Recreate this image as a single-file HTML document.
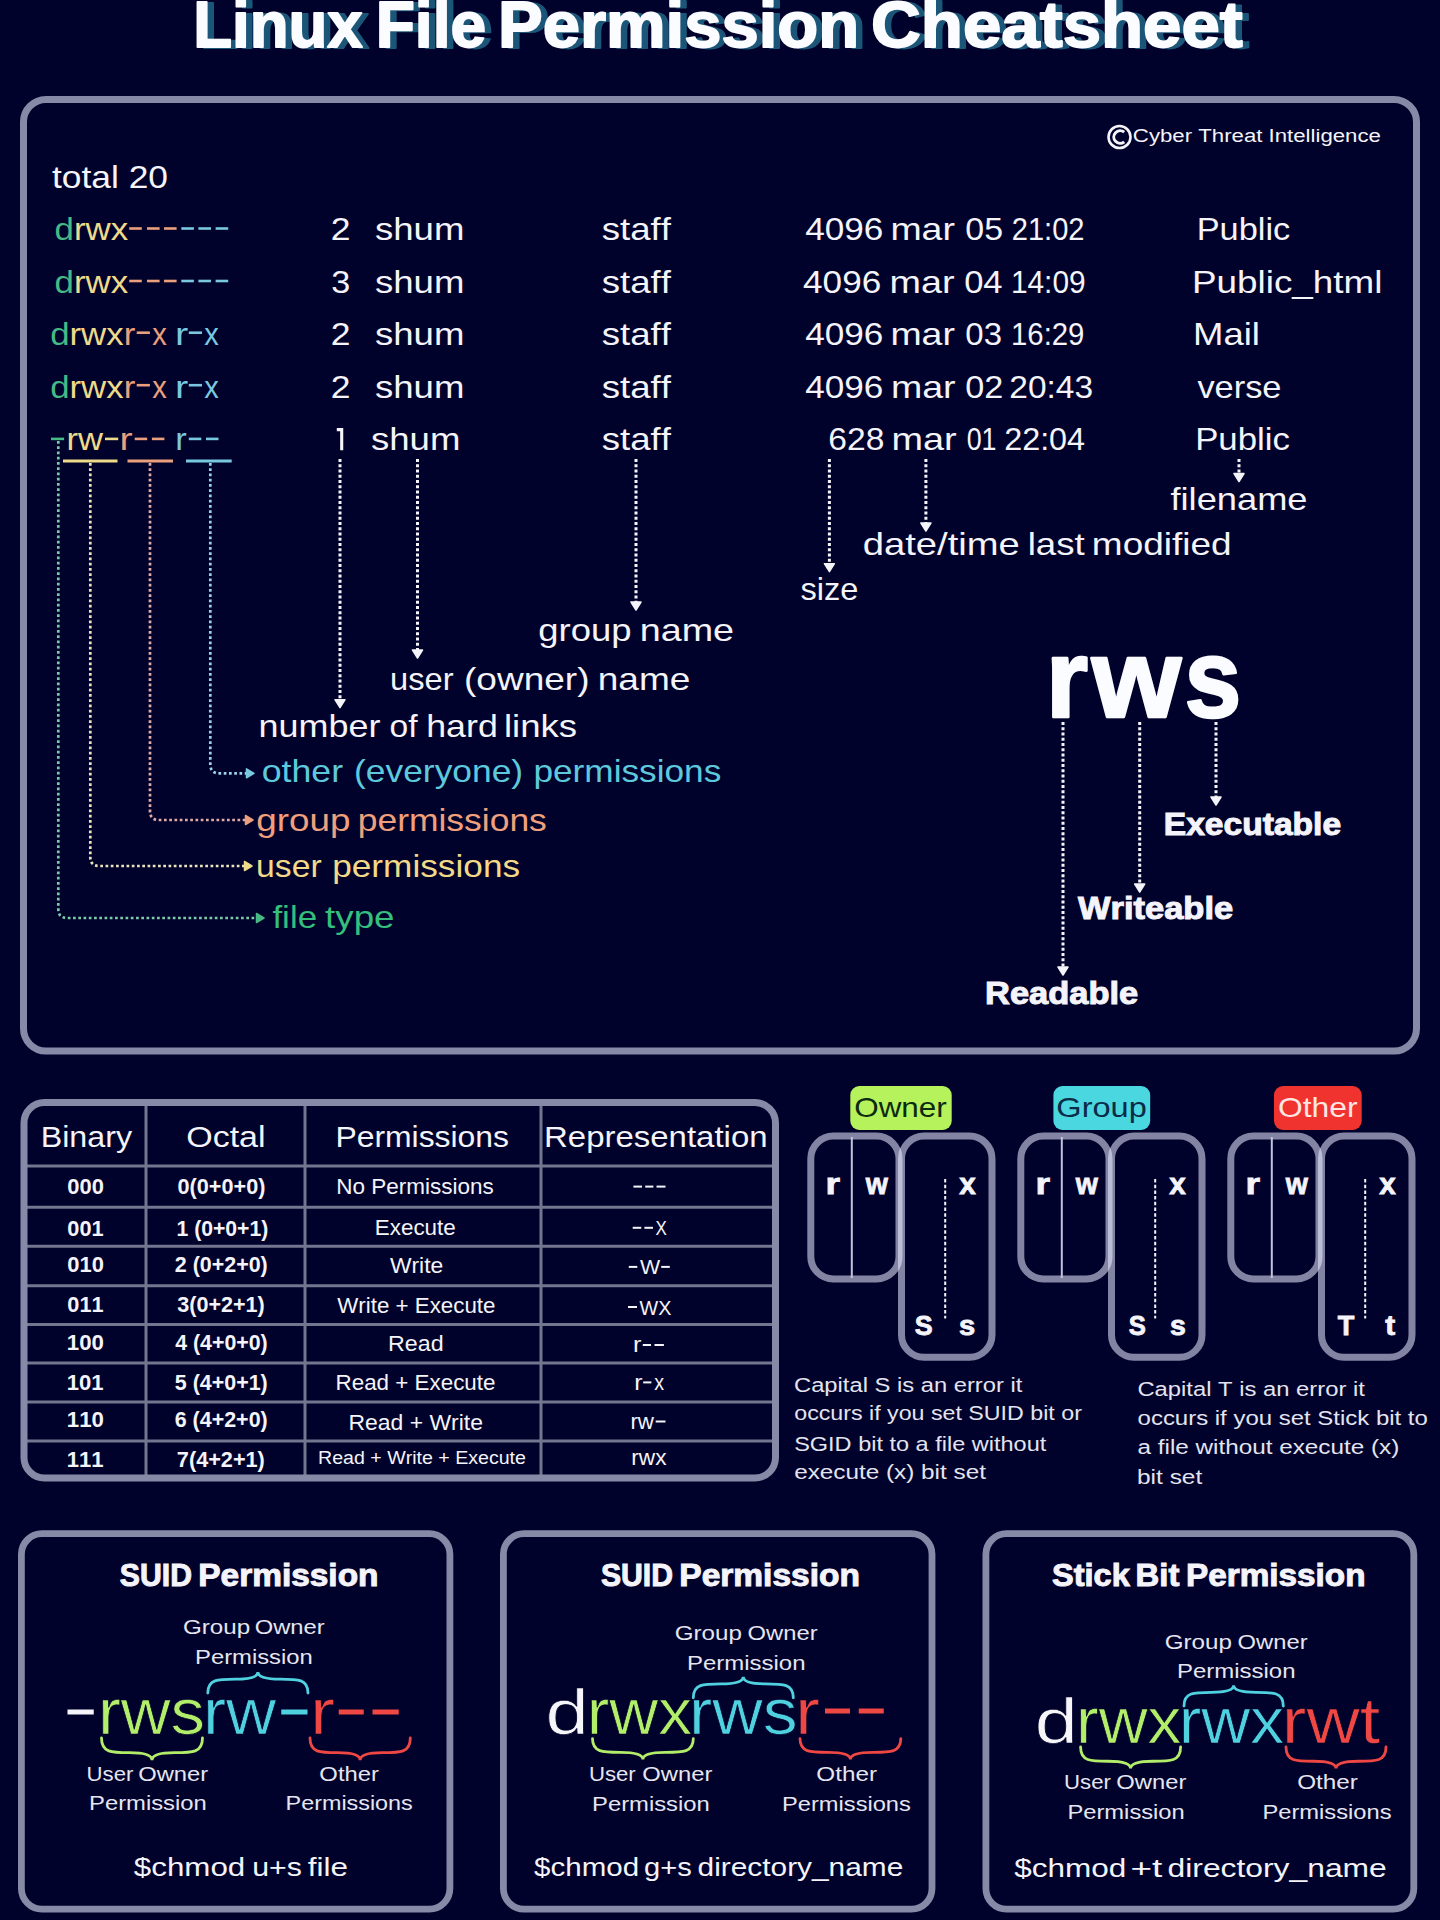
<!DOCTYPE html>
<html><head><meta charset="utf-8"><title>Linux File Permission Cheatsheet</title>
<style>
html,body{margin:0;padding:0;background:#01022b;}
body{width:1440px;height:1920px;overflow:hidden;}
svg{display:block;}
svg text{font-family:"Liberation Sans",sans-serif;font-kerning:none;fill:#f4f4fa;}
</style></head><body>
<svg width="1440" height="1920" viewBox="0 0 1440 1920">
<rect width="1440" height="1920" fill="#01022b"/>
<text transform="translate(199.65 48.00) scale(0.9781 1.0000)" font-size="65.00" font-weight="bold" stroke="#1b5577" stroke-width="1.8" stroke-linejoin="round"><tspan fill="#1b5577">Linux</tspan></text>
<text transform="translate(382.21 48.00) scale(0.9867 1.0000)" font-size="65.00" font-weight="bold" stroke="#1b5577" stroke-width="1.8" stroke-linejoin="round"><tspan fill="#1b5577">File</tspan></text>
<text transform="translate(504.52 48.00) scale(1.0306 1.0000)" font-size="65.00" font-weight="bold" stroke="#1b5577" stroke-width="1.8" stroke-linejoin="round"><tspan fill="#1b5577">Permission</tspan></text>
<text transform="translate(877.57 48.00) scale(1.0610 1.0000)" font-size="65.00" font-weight="bold" stroke="#1b5577" stroke-width="1.8" stroke-linejoin="round"><tspan fill="#1b5577">Cheatsheet</tspan></text>
<text transform="translate(193.15 47.20) scale(0.9781 1.0000)" font-size="65.00" font-weight="bold" stroke="#fbfcff" stroke-width="1.8" stroke-linejoin="round"><tspan fill="#fbfcff">Linux</tspan></text>
<text transform="translate(375.71 47.20) scale(0.9867 1.0000)" font-size="65.00" font-weight="bold" stroke="#fbfcff" stroke-width="1.8" stroke-linejoin="round"><tspan fill="#fbfcff">File</tspan></text>
<text transform="translate(498.02 47.20) scale(1.0306 1.0000)" font-size="65.00" font-weight="bold" stroke="#fbfcff" stroke-width="1.8" stroke-linejoin="round"><tspan fill="#fbfcff">Permission</tspan></text>
<text transform="translate(871.07 47.20) scale(1.0610 1.0000)" font-size="65.00" font-weight="bold" stroke="#fbfcff" stroke-width="1.8" stroke-linejoin="round"><tspan fill="#fbfcff">Cheatsheet</tspan></text>
<rect x="23.50" y="99.50" width="1393.00" height="951.50" rx="22.50" fill="none" stroke="#868aa6" stroke-width="7.00"/>
<circle cx="1119.5" cy="137" r="11" fill="none" stroke="#f4f4fa" stroke-width="2.6"/>
<path d="M1124.2 132.2 A6.3 6.3 0 1 0 1124.2 141.8" fill="none" stroke="#f4f4fa" stroke-width="3"/>
<text transform="translate(1132.87 142.00) scale(1.1688 1.0000)" font-size="19.00"><tspan fill="#f4f4fa">Cyber Threat Intelligence</tspan></text>
<text transform="translate(51.96 187.50) scale(1.1419 1.0000)" font-size="31.00"><tspan fill="#f4f4fa">total 20</tspan></text>
<text transform="translate(54.54 240.00) scale(1.0899 1.0000)" font-size="32.00"><tspan fill="#46b985">d</tspan><tspan fill="#eedb8a">rwx</tspan></text>
<line x1="129.20" y1="228.50" x2="141.80" y2="228.50" stroke="#eb9f7d" stroke-width="2.60"/>
<line x1="147.00" y1="228.50" x2="159.60" y2="228.50" stroke="#eb9f7d" stroke-width="2.60"/>
<line x1="164.00" y1="228.50" x2="176.60" y2="228.50" stroke="#eb9f7d" stroke-width="2.60"/>
<line x1="181.30" y1="228.50" x2="193.90" y2="228.50" stroke="#78c9e0" stroke-width="2.60"/>
<line x1="198.40" y1="228.50" x2="211.00" y2="228.50" stroke="#78c9e0" stroke-width="2.60"/>
<line x1="215.60" y1="228.50" x2="228.20" y2="228.50" stroke="#78c9e0" stroke-width="2.60"/>
<text transform="translate(54.54 292.50) scale(1.0899 1.0000)" font-size="32.00"><tspan fill="#46b985">d</tspan><tspan fill="#eedb8a">rwx</tspan></text>
<line x1="129.20" y1="281.00" x2="141.80" y2="281.00" stroke="#eb9f7d" stroke-width="2.60"/>
<line x1="147.00" y1="281.00" x2="159.60" y2="281.00" stroke="#eb9f7d" stroke-width="2.60"/>
<line x1="164.00" y1="281.00" x2="176.60" y2="281.00" stroke="#eb9f7d" stroke-width="2.60"/>
<line x1="181.30" y1="281.00" x2="193.90" y2="281.00" stroke="#78c9e0" stroke-width="2.60"/>
<line x1="198.40" y1="281.00" x2="211.00" y2="281.00" stroke="#78c9e0" stroke-width="2.60"/>
<line x1="215.60" y1="281.00" x2="228.20" y2="281.00" stroke="#78c9e0" stroke-width="2.60"/>
<text transform="translate(50.14 345.00) scale(1.0885 1.0000)" font-size="32.00"><tspan fill="#46b985">d</tspan><tspan fill="#eedb8a">rwx</tspan><tspan fill="#eb9f7d">r</tspan></text>
<line x1="136.70" y1="332.70" x2="149.90" y2="332.70" stroke="#eb9f7d" stroke-width="2.60"/>
<text transform="translate(152.17 345.00) scale(0.9087 1.0000)" font-size="32.00"><tspan fill="#eb9f7d">x</tspan></text>
<text transform="translate(174.97 345.00) scale(1.2375 1.0000)" font-size="32.00"><tspan fill="#78c9e0">r</tspan></text>
<line x1="188.80" y1="332.70" x2="202.00" y2="332.70" stroke="#78c9e0" stroke-width="2.60"/>
<text transform="translate(204.27 345.00) scale(0.9087 1.0000)" font-size="32.00"><tspan fill="#78c9e0">x</tspan></text>
<text transform="translate(50.14 397.50) scale(1.0885 1.0000)" font-size="32.00"><tspan fill="#46b985">d</tspan><tspan fill="#eedb8a">rwx</tspan><tspan fill="#eb9f7d">r</tspan></text>
<line x1="136.70" y1="385.20" x2="149.90" y2="385.20" stroke="#eb9f7d" stroke-width="2.60"/>
<text transform="translate(152.17 397.50) scale(0.9087 1.0000)" font-size="32.00"><tspan fill="#eb9f7d">x</tspan></text>
<text transform="translate(174.97 397.50) scale(1.2375 1.0000)" font-size="32.00"><tspan fill="#78c9e0">r</tspan></text>
<line x1="188.80" y1="385.20" x2="202.00" y2="385.20" stroke="#78c9e0" stroke-width="2.60"/>
<text transform="translate(204.27 397.50) scale(0.9087 1.0000)" font-size="32.00"><tspan fill="#78c9e0">x</tspan></text>
<line x1="51.00" y1="438.90" x2="64.10" y2="438.90" stroke="#46b985" stroke-width="2.60"/>
<text transform="translate(66.40 450.00) scale(1.0814 1.0000)" font-size="32.00"><tspan fill="#eedb8a">rw</tspan></text>
<line x1="105.00" y1="438.90" x2="118.20" y2="438.90" stroke="#eedb8a" stroke-width="2.60"/>
<text transform="translate(119.60 450.00) scale(1.2250 1.0000)" font-size="32.00"><tspan fill="#eb9f7d">r</tspan></text>
<line x1="134.70" y1="438.90" x2="147.20" y2="438.90" stroke="#eb9f7d" stroke-width="2.60"/>
<line x1="151.90" y1="438.90" x2="164.40" y2="438.90" stroke="#eb9f7d" stroke-width="2.60"/>
<text transform="translate(175.32 450.00) scale(1.0750 1.0000)" font-size="32.00"><tspan fill="#78c9e0">r</tspan></text>
<line x1="188.80" y1="438.90" x2="201.30" y2="438.90" stroke="#78c9e0" stroke-width="2.60"/>
<line x1="206.00" y1="438.90" x2="218.50" y2="438.90" stroke="#78c9e0" stroke-width="2.60"/>
<text transform="translate(330.71 240.00) scale(1.1113 1.0000)" font-size="32.00"><tspan fill="#f4f4fa">2</tspan></text>
<text transform="translate(374.98 240.00) scale(1.1429 1.0000)" font-size="32.00"><tspan fill="#f4f4fa">shum</tspan></text>
<text transform="translate(601.68 240.00) scale(1.1455 1.0000)" font-size="32.00"><tspan fill="#f4f4fa">staff</tspan></text>
<text transform="translate(331.20 292.50) scale(1.0678 1.0000)" font-size="32.00"><tspan fill="#f4f4fa">3</tspan></text>
<text transform="translate(374.98 292.50) scale(1.1429 1.0000)" font-size="32.00"><tspan fill="#f4f4fa">shum</tspan></text>
<text transform="translate(601.68 292.50) scale(1.1455 1.0000)" font-size="32.00"><tspan fill="#f4f4fa">staff</tspan></text>
<text transform="translate(330.71 345.00) scale(1.1113 1.0000)" font-size="32.00"><tspan fill="#f4f4fa">2</tspan></text>
<text transform="translate(374.98 345.00) scale(1.1429 1.0000)" font-size="32.00"><tspan fill="#f4f4fa">shum</tspan></text>
<text transform="translate(601.68 345.00) scale(1.1455 1.0000)" font-size="32.00"><tspan fill="#f4f4fa">staff</tspan></text>
<text transform="translate(330.71 397.50) scale(1.1113 1.0000)" font-size="32.00"><tspan fill="#f4f4fa">2</tspan></text>
<text transform="translate(374.98 397.50) scale(1.1429 1.0000)" font-size="32.00"><tspan fill="#f4f4fa">shum</tspan></text>
<text transform="translate(601.68 397.50) scale(1.1455 1.0000)" font-size="32.00"><tspan fill="#f4f4fa">staff</tspan></text>
<path d="M336.8 429.6 L341.7 429.6 L341.7 450.3" fill="none" stroke="#f4f4fa" stroke-width="3.1" stroke-linejoin="miter"/>
<text transform="translate(370.98 450.00) scale(1.1429 1.0000)" font-size="32.00"><tspan fill="#f4f4fa">shum</tspan></text>
<text transform="translate(601.68 450.00) scale(1.1455 1.0000)" font-size="32.00"><tspan fill="#f4f4fa">staff</tspan></text>
<text transform="translate(805.19 240.00) scale(1.0993 1.0000)" font-size="32.00"><tspan fill="#f4f4fa">4096</tspan></text>
<text transform="translate(890.41 240.00) scale(1.1706 1.0000)" font-size="32.00"><tspan fill="#f4f4fa">mar</tspan></text>
<text transform="translate(965.27 240.00) scale(1.0606 1.0000)" font-size="32.00"><tspan fill="#f4f4fa">05</tspan></text>
<text transform="translate(1011.74 240.00) scale(0.9095 1.0000)" font-size="32.00"><tspan fill="#f4f4fa">21:02</tspan></text>
<text transform="translate(1196.68 240.00) scale(1.0742 1.0000)" font-size="32.00"><tspan fill="#f4f4fa">Public</tspan></text>
<text transform="translate(803.09 292.50) scale(1.0978 1.0000)" font-size="32.00"><tspan fill="#f4f4fa">4096</tspan></text>
<text transform="translate(889.49 292.50) scale(1.1801 1.0000)" font-size="32.00"><tspan fill="#f4f4fa">mar</tspan></text>
<text transform="translate(964.15 292.50) scale(1.0806 1.0000)" font-size="32.00"><tspan fill="#f4f4fa">04</tspan></text>
<text transform="translate(1010.93 292.50) scale(0.9327 1.0000)" font-size="32.00"><tspan fill="#f4f4fa">14:09</tspan></text>
<text transform="translate(1191.98 292.50) scale(1.1516 1.0000)" font-size="32.00"><tspan fill="#f4f4fa">Public_html</tspan></text>
<text transform="translate(805.19 345.00) scale(1.0993 1.0000)" font-size="32.00"><tspan fill="#f4f4fa">4096</tspan></text>
<text transform="translate(890.41 345.00) scale(1.1706 1.0000)" font-size="32.00"><tspan fill="#f4f4fa">mar</tspan></text>
<text transform="translate(965.31 345.00) scale(1.0292 1.0000)" font-size="32.00"><tspan fill="#f4f4fa">03</tspan></text>
<text transform="translate(1010.96 345.00) scale(0.9182 1.0000)" font-size="32.00"><tspan fill="#f4f4fa">16:29</tspan></text>
<text transform="translate(1193.01 345.00) scale(1.1409 1.0000)" font-size="32.00"><tspan fill="#f4f4fa">Mail</tspan></text>
<text transform="translate(805.19 397.50) scale(1.0993 1.0000)" font-size="32.00"><tspan fill="#f4f4fa">4096</tspan></text>
<text transform="translate(891.01 397.50) scale(1.1725 1.0000)" font-size="32.00"><tspan fill="#f4f4fa">mar</tspan></text>
<text transform="translate(965.26 397.50) scale(1.0692 1.0000)" font-size="32.00"><tspan fill="#f4f4fa">02</tspan></text>
<text transform="translate(1009.32 397.50) scale(1.0459 1.0000)" font-size="32.00"><tspan fill="#f4f4fa">20:43</tspan></text>
<text transform="translate(1197.38 397.50) scale(1.0754 1.0000)" font-size="32.00"><tspan fill="#f4f4fa">verse</tspan></text>
<text transform="translate(828.29 450.00) scale(1.0501 1.0000)" font-size="32.00"><tspan fill="#f4f4fa">628</tspan></text>
<text transform="translate(891.49 450.00) scale(1.1820 1.0000)" font-size="32.00"><tspan fill="#f4f4fa">mar</tspan></text>
<text transform="translate(966.65 450.00) scale(0.8389 1.0000)" font-size="32.00"><tspan fill="#f4f4fa">01</tspan></text>
<text transform="translate(1004.17 450.00) scale(1.0112 1.0000)" font-size="32.00"><tspan fill="#f4f4fa">22:04</tspan></text>
<text transform="translate(1195.15 450.00) scale(1.0874 1.0000)" font-size="32.00"><tspan fill="#f4f4fa">Public</tspan></text>
<line x1="63" y1="461" x2="117.5" y2="461" stroke="#eedb8a" stroke-width="3"/>
<line x1="127.5" y1="461" x2="173" y2="461" stroke="#eb9f7d" stroke-width="3"/>
<line x1="186" y1="461" x2="231.7" y2="461" stroke="#78c9e0" stroke-width="3"/>
<path d="M58.30 441.00 L58.30 909.00 Q58.30 918.00 67.30 918.00 L256.00 918.00" fill="none" stroke="#7ccaa8" stroke-width="2.7" stroke-dasharray="2.7 2.55"/>
<path d="M256.50 913.50 L256.50 922.50 L264.00 918.00 Z" fill="#46b985" stroke="#46b985" stroke-width="1.5" stroke-linejoin="round"/>
<path d="M90.30 463.00 L90.30 857.00 Q90.30 866.00 99.30 866.00 L244.00 866.00" fill="none" stroke="#ece4bc" stroke-width="2.7" stroke-dasharray="2.7 2.55"/>
<path d="M244.50 861.50 L244.50 870.50 L252.00 866.00 Z" fill="#eedb8a" stroke="#eedb8a" stroke-width="1.5" stroke-linejoin="round"/>
<path d="M150.00 463.00 L150.00 811.00 Q150.00 820.00 159.00 820.00 L245.00 820.00" fill="none" stroke="#e2aca6" stroke-width="2.7" stroke-dasharray="2.7 2.55"/>
<path d="M245.50 815.50 L245.50 824.50 L253.00 820.00 Z" fill="#eb9f7d" stroke="#eb9f7d" stroke-width="1.5" stroke-linejoin="round"/>
<path d="M210.30 463.00 L210.30 764.30 Q210.30 773.30 219.30 773.30 L246.00 773.30" fill="none" stroke="#9ad4e8" stroke-width="2.7" stroke-dasharray="2.7 2.55"/>
<path d="M246.50 768.80 L246.50 777.80 L254.00 773.30 Z" fill="#78c9e0" stroke="#78c9e0" stroke-width="1.5" stroke-linejoin="round"/>
<line x1="340.00" y1="459.00" x2="340.00" y2="699.00" stroke="#f4f4fa" stroke-width="3" stroke-dasharray="3 2.25"/>
<path d="M335.00 699.70 L345.00 699.70 L340.00 707.70 Z" fill="#f4f4fa" stroke="#f4f4fa" stroke-width="1.5" stroke-linejoin="round"/>
<line x1="417.50" y1="459.00" x2="417.50" y2="650.00" stroke="#f4f4fa" stroke-width="3" stroke-dasharray="3 2.25"/>
<path d="M412.50 650.00 L422.50 650.00 L417.50 658.00 Z" fill="#f4f4fa" stroke="#f4f4fa" stroke-width="1.5" stroke-linejoin="round"/>
<line x1="636.00" y1="459.00" x2="636.00" y2="602.00" stroke="#f4f4fa" stroke-width="3" stroke-dasharray="3 2.25"/>
<path d="M631.00 602.00 L641.00 602.00 L636.00 610.00 Z" fill="#f4f4fa" stroke="#f4f4fa" stroke-width="1.5" stroke-linejoin="round"/>
<line x1="829.40" y1="459.00" x2="829.40" y2="564.00" stroke="#f4f4fa" stroke-width="3" stroke-dasharray="3 2.25"/>
<path d="M824.40 563.70 L834.40 563.70 L829.40 571.70 Z" fill="#f4f4fa" stroke="#f4f4fa" stroke-width="1.5" stroke-linejoin="round"/>
<line x1="925.90" y1="459.00" x2="925.90" y2="523.00" stroke="#f4f4fa" stroke-width="3" stroke-dasharray="3 2.25"/>
<path d="M920.90 523.00 L930.90 523.00 L925.90 531.00 Z" fill="#f4f4fa" stroke="#f4f4fa" stroke-width="1.5" stroke-linejoin="round"/>
<line x1="1239.00" y1="459.00" x2="1239.00" y2="474.00" stroke="#f4f4fa" stroke-width="3" stroke-dasharray="3 2.25"/>
<path d="M1234.00 473.50 L1244.00 473.50 L1239.00 481.50 Z" fill="#f4f4fa" stroke="#f4f4fa" stroke-width="1.5" stroke-linejoin="round"/>
<text transform="translate(1170.49 510.00) scale(1.1337 1.0000)" font-size="32.00"><tspan fill="#f4f4fa">filename</tspan></text>
<text transform="translate(862.80 555.00) scale(1.1928 1.0000)" font-size="32.00"><tspan fill="#f4f4fa">date/time</tspan></text>
<text transform="translate(1027.63 555.00) scale(1.1454 1.0000)" font-size="32.00"><tspan fill="#f4f4fa">last</tspan></text>
<text transform="translate(1091.84 555.00) scale(1.1562 1.0000)" font-size="32.00"><tspan fill="#f4f4fa">modified</tspan></text>
<text transform="translate(800.49 599.70) scale(1.0184 1.0000)" font-size="32.00"><tspan fill="#f4f4fa">size</tspan></text>
<text transform="translate(538.37 641.00) scale(1.1383 1.0000)" font-size="32.00"><tspan fill="#f4f4fa">group</tspan></text>
<text transform="translate(639.69 641.00) scale(1.1791 1.0000)" font-size="32.00"><tspan fill="#f4f4fa">name</tspan></text>
<text transform="translate(390.08 689.70) scale(1.0194 1.0000)" font-size="32.00"><tspan fill="#f4f4fa">user</tspan></text>
<text transform="translate(464.00 689.70) scale(1.1569 1.0000)" font-size="32.00"><tspan fill="#f4f4fa">(owner)</tspan></text>
<text transform="translate(597.74 689.70) scale(1.1582 1.0000)" font-size="32.00"><tspan fill="#f4f4fa">name</tspan></text>
<text transform="translate(258.61 736.50) scale(1.1243 1.0000)" font-size="32.00"><tspan fill="#f4f4fa">number</tspan></text>
<text transform="translate(389.59 736.50) scale(1.0516 1.0000)" font-size="32.00"><tspan fill="#f4f4fa">of</tspan></text>
<text transform="translate(426.22 736.50) scale(1.1177 1.0000)" font-size="32.00"><tspan fill="#f4f4fa">hard</tspan></text>
<text transform="translate(503.94 736.50) scale(1.1416 1.0000)" font-size="32.00"><tspan fill="#f4f4fa">links</tspan></text>
<text transform="translate(261.70 782.30) scale(1.1159 1.0000)" font-size="32.00"><tspan fill="#5ec9dc">other</tspan></text>
<text transform="translate(354.00 782.30) scale(1.1062 1.0000)" font-size="32.00"><tspan fill="#5ec9dc">(everyone)</tspan></text>
<text transform="translate(533.43 782.30) scale(1.1009 1.0000)" font-size="32.00"><tspan fill="#5ec9dc">permissions</tspan></text>
<text transform="translate(256.25 831.10) scale(1.1509 1.0000)" font-size="32.00"><tspan fill="#f0a07c">group</tspan></text>
<text transform="translate(357.71 831.10) scale(1.1081 1.0000)" font-size="32.00"><tspan fill="#f0a07c">permissions</tspan></text>
<text transform="translate(256.01 876.70) scale(1.0547 1.0000)" font-size="32.00"><tspan fill="#f2da88">user</tspan></text>
<text transform="translate(332.13 876.70) scale(1.1015 1.0000)" font-size="32.00"><tspan fill="#f2da88">permissions</tspan></text>
<text transform="translate(272.40 927.80) scale(1.0940 1.0000)" font-size="32.00"><tspan fill="#35bf7c">file</tspan></text>
<text transform="translate(325.04 927.80) scale(1.1489 1.0000)" font-size="32.00"><tspan fill="#35bf7c">type</tspan></text>
<text transform="translate(1045.83 716.80) scale(0.9708 1.0000)" font-size="112.00" font-weight="bold" stroke="#fbfcff" stroke-width="2.6" stroke-linejoin="round"><tspan fill="#fbfcff">r</tspan></text>
<text transform="translate(1091.84 716.80) scale(1.0266 1.0000)" font-size="112.00" font-weight="bold" stroke="#fbfcff" stroke-width="2.6" stroke-linejoin="round"><tspan fill="#fbfcff">w</tspan></text>
<text transform="translate(1184.41 716.80) scale(0.9115 1.0000)" font-size="112.00" font-weight="bold" stroke="#fbfcff" stroke-width="2.6" stroke-linejoin="round"><tspan fill="#fbfcff">s</tspan></text>
<line x1="1063.00" y1="722.00" x2="1063.00" y2="967.00" stroke="#f4f4fa" stroke-width="3" stroke-dasharray="3 2.25"/>
<path d="M1058.00 967.00 L1068.00 967.00 L1063.00 975.00 Z" fill="#f4f4fa" stroke="#f4f4fa" stroke-width="1.5" stroke-linejoin="round"/>
<line x1="1139.70" y1="722.00" x2="1139.70" y2="884.00" stroke="#f4f4fa" stroke-width="3" stroke-dasharray="3 2.25"/>
<path d="M1134.70 884.00 L1144.70 884.00 L1139.70 892.00 Z" fill="#f4f4fa" stroke="#f4f4fa" stroke-width="1.5" stroke-linejoin="round"/>
<line x1="1216.00" y1="722.00" x2="1216.00" y2="797.00" stroke="#f4f4fa" stroke-width="3" stroke-dasharray="3 2.25"/>
<path d="M1211.00 797.00 L1221.00 797.00 L1216.00 805.00 Z" fill="#f4f4fa" stroke="#f4f4fa" stroke-width="1.5" stroke-linejoin="round"/>
<text transform="translate(1163.75 835.30) scale(1.1015 1.0000)" font-size="30.50" font-weight="bold" stroke="#f4f4fa" stroke-width="1"><tspan fill="#f4f4fa">Executable</tspan></text>
<text transform="translate(1077.97 919.20) scale(1.1306 1.0000)" font-size="30.50" font-weight="bold" stroke="#f4f4fa" stroke-width="1"><tspan fill="#f4f4fa">Writeable</tspan></text>
<text transform="translate(985.10 1003.70) scale(1.1288 1.0000)" font-size="30.50" font-weight="bold" stroke="#f4f4fa" stroke-width="1"><tspan fill="#f4f4fa">Readable</tspan></text>
<line x1="146.0" y1="1104.0" x2="146.0" y2="1476.5" stroke="#74768f" stroke-width="3"/>
<line x1="305.0" y1="1104.0" x2="305.0" y2="1476.5" stroke="#74768f" stroke-width="3"/>
<line x1="541.0" y1="1104.0" x2="541.0" y2="1476.5" stroke="#74768f" stroke-width="3"/>
<line x1="25.5" y1="1166.1" x2="774.0" y2="1166.1" stroke="#74768f" stroke-width="3"/>
<line x1="25.5" y1="1207.3" x2="774.0" y2="1207.3" stroke="#74768f" stroke-width="3"/>
<line x1="25.5" y1="1246.3" x2="774.0" y2="1246.3" stroke="#74768f" stroke-width="3"/>
<line x1="25.5" y1="1285.8" x2="774.0" y2="1285.8" stroke="#74768f" stroke-width="3"/>
<line x1="25.5" y1="1324.6" x2="774.0" y2="1324.6" stroke="#74768f" stroke-width="3"/>
<line x1="25.5" y1="1362.9" x2="774.0" y2="1362.9" stroke="#74768f" stroke-width="3"/>
<line x1="25.5" y1="1402.0" x2="774.0" y2="1402.0" stroke="#74768f" stroke-width="3"/>
<line x1="25.5" y1="1440.9" x2="774.0" y2="1440.9" stroke="#74768f" stroke-width="3"/>
<rect x="24.00" y="1102.50" width="751.50" height="375.50" rx="20.50" fill="none" stroke="#868aa6" stroke-width="7.00"/>
<text transform="translate(40.65 1146.70) scale(1.1120 1.0000)" font-size="29.00"><tspan fill="#f4f4fa">Binary</tspan></text>
<text transform="translate(186.19 1146.70) scale(1.1729 1.0000)" font-size="29.00"><tspan fill="#f4f4fa">Octal</tspan></text>
<text transform="translate(335.38 1146.70) scale(1.1003 1.0000)" font-size="29.00"><tspan fill="#f4f4fa">Permissions</tspan></text>
<text transform="translate(543.99 1146.70) scale(1.1371 1.0000)" font-size="29.00"><tspan fill="#f4f4fa">Representation</tspan></text>
<text transform="translate(67.33 1194.00) scale(1.0193 1.0000)" font-size="21.50" font-weight="bold"><tspan fill="#f4f4fa">000</tspan></text>
<text transform="translate(177.54 1194.00) scale(1.0078 1.0000)" font-size="21.50" font-weight="bold"><tspan fill="#f4f4fa">0(0+0+0)</tspan></text>
<text transform="translate(336.15 1193.80) scale(1.0473 1.0000)" font-size="21.50"><tspan fill="#f4f4fa">No Permissions</tspan></text>
<text transform="translate(67.34 1236.20) scale(1.0109 1.0000)" font-size="21.50" font-weight="bold"><tspan fill="#f4f4fa">001</tspan></text>
<text transform="translate(176.47 1236.20) scale(0.9856 1.0000)" font-size="21.50" font-weight="bold"><tspan fill="#f4f4fa">1 (0+0+1)</tspan></text>
<text transform="translate(374.76 1234.60) scale(1.0431 1.0000)" font-size="21.50"><tspan fill="#f4f4fa">Execute</tspan></text>
<text transform="translate(67.33 1272.20) scale(1.0193 1.0000)" font-size="21.50" font-weight="bold"><tspan fill="#f4f4fa">010</tspan></text>
<text transform="translate(174.76 1272.20) scale(0.9976 1.0000)" font-size="21.50" font-weight="bold"><tspan fill="#f4f4fa">2 (0+2+0)</tspan></text>
<text transform="translate(389.90 1273.30) scale(1.0629 1.0000)" font-size="21.50"><tspan fill="#f4f4fa">Write</tspan></text>
<text transform="translate(67.34 1312.20) scale(1.0109 1.0000)" font-size="21.50" font-weight="bold"><tspan fill="#f4f4fa">011</tspan></text>
<text transform="translate(177.30 1312.20) scale(1.0036 1.0000)" font-size="21.50" font-weight="bold"><tspan fill="#f4f4fa">3(0+2+1)</tspan></text>
<text transform="translate(337.30 1312.50) scale(1.0390 1.0000)" font-size="21.50"><tspan fill="#f4f4fa">Write + Execute</tspan></text>
<text transform="translate(66.80 1350.00) scale(1.0346 1.0000)" font-size="21.50" font-weight="bold"><tspan fill="#f4f4fa">100</tspan></text>
<text transform="translate(175.18 1350.00) scale(0.9931 1.0000)" font-size="21.50" font-weight="bold"><tspan fill="#f4f4fa">4 (4+0+0)</tspan></text>
<text transform="translate(388.09 1351.30) scale(1.0819 1.0000)" font-size="21.50"><tspan fill="#f4f4fa">Read</tspan></text>
<text transform="translate(66.81 1390.00) scale(1.0260 1.0000)" font-size="21.50" font-weight="bold"><tspan fill="#f4f4fa">101</tspan></text>
<text transform="translate(174.84 1390.00) scale(0.9967 1.0000)" font-size="21.50" font-weight="bold"><tspan fill="#f4f4fa">5 (4+0+1)</tspan></text>
<text transform="translate(335.56 1390.40) scale(1.0420 1.0000)" font-size="21.50"><tspan fill="#f4f4fa">Read + Execute</tspan></text>
<text transform="translate(66.80 1426.70) scale(1.0346 1.0000)" font-size="21.50" font-weight="bold"><tspan fill="#f4f4fa">110</tspan></text>
<text transform="translate(174.71 1426.70) scale(0.9981 1.0000)" font-size="21.50" font-weight="bold"><tspan fill="#f4f4fa">6 (4+2+0)</tspan></text>
<text transform="translate(348.52 1429.50) scale(1.0670 1.0000)" font-size="21.50"><tspan fill="#f4f4fa">Read + Write</tspan></text>
<text transform="translate(66.81 1466.70) scale(1.0260 1.0000)" font-size="21.50" font-weight="bold"><tspan fill="#f4f4fa">111</tspan></text>
<text transform="translate(176.87 1466.70) scale(1.0086 1.0000)" font-size="21.50" font-weight="bold"><tspan fill="#f4f4fa">7(4+2+1)</tspan></text>
<text transform="translate(318.09 1463.50) scale(1.0311 1.0000)" font-size="19.00"><tspan fill="#f4f4fa">Read + Write + Execute</tspan></text>
<line x1="633.40" y1="1186.60" x2="642.00" y2="1186.60" stroke="#f4f4fa" stroke-width="2.00"/>
<line x1="645.20" y1="1186.60" x2="653.40" y2="1186.60" stroke="#f4f4fa" stroke-width="2.00"/>
<line x1="656.50" y1="1186.60" x2="665.50" y2="1186.60" stroke="#f4f4fa" stroke-width="2.00"/>
<line x1="632.70" y1="1227.80" x2="641.25" y2="1227.80" stroke="#f4f4fa" stroke-width="2.00"/>
<line x1="644.40" y1="1227.80" x2="653.00" y2="1227.80" stroke="#f4f4fa" stroke-width="2.00"/>
<text transform="translate(655.62 1235.20) scale(0.8095 1.0000)" font-size="21.00"><tspan fill="#f4f4fa">X</tspan></text>
<line x1="628.75" y1="1266.90" x2="637.30" y2="1266.90" stroke="#f4f4fa" stroke-width="2.00"/>
<text transform="translate(639.91 1274.30) scale(1.0175 1.0000)" font-size="21.00"><tspan fill="#f4f4fa">W</tspan></text>
<line x1="661.20" y1="1266.90" x2="669.80" y2="1266.90" stroke="#f4f4fa" stroke-width="2.00"/>
<line x1="628.00" y1="1307.00" x2="637.00" y2="1307.00" stroke="#f4f4fa" stroke-width="2.00"/>
<text transform="translate(639.61 1314.50) scale(0.9401 1.0000)" font-size="21.00"><tspan fill="#f4f4fa">WX</tspan></text>
<text transform="translate(632.93 1352.00) scale(1.1721 1.0000)" font-size="21.50"><tspan fill="#f4f4fa">r</tspan></text>
<line x1="642.80" y1="1345.00" x2="651.00" y2="1345.00" stroke="#f4f4fa" stroke-width="2.00"/>
<line x1="654.50" y1="1345.00" x2="663.90" y2="1345.00" stroke="#f4f4fa" stroke-width="2.00"/>
<text transform="translate(634.15 1389.80) scale(1.1535 1.0000)" font-size="21.50"><tspan fill="#f4f4fa">r</tspan></text>
<line x1="643.20" y1="1382.40" x2="651.40" y2="1382.40" stroke="#f4f4fa" stroke-width="2.00"/>
<text transform="translate(654.28 1389.80) scale(0.9146 1.0000)" font-size="21.50"><tspan fill="#f4f4fa">x</tspan></text>
<text transform="translate(630.41 1428.90) scale(1.0417 1.0000)" font-size="21.50"><tspan fill="#f4f4fa">rw</tspan></text>
<line x1="655.70" y1="1421.50" x2="665.50" y2="1421.50" stroke="#f4f4fa" stroke-width="2.00"/>
<text transform="translate(631.19 1464.80) scale(1.0558 1.0000)" font-size="21.50"><tspan fill="#f4f4fa">rwx</tspan></text>
<rect x="850.3" y="1086" width="101.4" height="44" rx="9" fill="#b6f25c"/>
<text transform="translate(854.21 1117.20) scale(1.1434 1.0000)" font-size="27.50"><tspan fill="#0c2a10">Owner</tspan></text>
<rect x="1053.4" y="1086" width="96.8" height="44" rx="9" fill="#4ad7df"/>
<text transform="translate(1056.36 1117.20) scale(1.1841 1.0000)" font-size="27.50"><tspan fill="#0b2b48">Group</tspan></text>
<rect x="1274.0" y="1086" width="87.7" height="44" rx="9" fill="#f0332f"/>
<text transform="translate(1277.99 1117.20) scale(1.1564 1.0000)" font-size="27.50"><tspan fill="#ffe6e2">Other</tspan></text>
<rect x="810.80" y="1136.10" width="88.20" height="142.80" rx="22.50" fill="none" stroke="rgba(230,232,255,0.57)" stroke-width="7.00"/>
<rect x="901.50" y="1136.10" width="90.50" height="221.10" rx="22.50" fill="none" stroke="rgba(230,232,255,0.57)" stroke-width="7.00"/>
<line x1="851.8" y1="1137" x2="851.8" y2="1278" stroke="#c2c4dc" stroke-width="2"/>
<line x1="945.2" y1="1179" x2="945.2" y2="1318.5" stroke="#f4f4fa" stroke-width="2" stroke-dasharray="3.5 2.2"/>
<text transform="translate(825.54 1194.00) scale(1.2442 1.0000)" font-size="30.00" font-weight="bold" stroke="#f4f4fa" stroke-width="0.8"><tspan fill="#f4f4fa">r</tspan></text>
<text transform="translate(865.78 1194.00) scale(0.9497 1.0000)" font-size="30.00" font-weight="bold" stroke="#f4f4fa" stroke-width="0.8"><tspan fill="#f4f4fa">w</tspan></text>
<text transform="translate(959.20 1194.00) scale(0.9902 1.0000)" font-size="30.00" font-weight="bold" stroke="#f4f4fa" stroke-width="0.8"><tspan fill="#f4f4fa">x</tspan></text>
<rect x="1020.80" y="1136.10" width="88.20" height="142.80" rx="22.50" fill="none" stroke="rgba(230,232,255,0.57)" stroke-width="7.00"/>
<rect x="1111.50" y="1136.10" width="90.50" height="221.10" rx="22.50" fill="none" stroke="rgba(230,232,255,0.57)" stroke-width="7.00"/>
<line x1="1061.8" y1="1137" x2="1061.8" y2="1278" stroke="#c2c4dc" stroke-width="2"/>
<line x1="1155.2" y1="1179" x2="1155.2" y2="1318.5" stroke="#f4f4fa" stroke-width="2" stroke-dasharray="3.5 2.2"/>
<text transform="translate(1035.54 1194.00) scale(1.2442 1.0000)" font-size="30.00" font-weight="bold" stroke="#f4f4fa" stroke-width="0.8"><tspan fill="#f4f4fa">r</tspan></text>
<text transform="translate(1075.78 1194.00) scale(0.9497 1.0000)" font-size="30.00" font-weight="bold" stroke="#f4f4fa" stroke-width="0.8"><tspan fill="#f4f4fa">w</tspan></text>
<text transform="translate(1169.20 1194.00) scale(0.9902 1.0000)" font-size="30.00" font-weight="bold" stroke="#f4f4fa" stroke-width="0.8"><tspan fill="#f4f4fa">x</tspan></text>
<rect x="1230.80" y="1136.10" width="88.20" height="142.80" rx="22.50" fill="none" stroke="rgba(230,232,255,0.57)" stroke-width="7.00"/>
<rect x="1321.50" y="1136.10" width="90.50" height="221.10" rx="22.50" fill="none" stroke="rgba(230,232,255,0.57)" stroke-width="7.00"/>
<line x1="1271.8" y1="1137" x2="1271.8" y2="1278" stroke="#c2c4dc" stroke-width="2"/>
<line x1="1365.2" y1="1179" x2="1365.2" y2="1318.5" stroke="#f4f4fa" stroke-width="2" stroke-dasharray="3.5 2.2"/>
<text transform="translate(1245.54 1194.00) scale(1.2442 1.0000)" font-size="30.00" font-weight="bold" stroke="#f4f4fa" stroke-width="0.8"><tspan fill="#f4f4fa">r</tspan></text>
<text transform="translate(1285.78 1194.00) scale(0.9497 1.0000)" font-size="30.00" font-weight="bold" stroke="#f4f4fa" stroke-width="0.8"><tspan fill="#f4f4fa">w</tspan></text>
<text transform="translate(1379.20 1194.00) scale(0.9902 1.0000)" font-size="30.00" font-weight="bold" stroke="#f4f4fa" stroke-width="0.8"><tspan fill="#f4f4fa">x</tspan></text>
<text transform="translate(914.83 1334.60) scale(0.9953 1.0000)" font-size="27.00" font-weight="bold" stroke="#f4f4fa" stroke-width="0.8"><tspan fill="#f4f4fa">S</tspan></text>
<text transform="translate(958.97 1334.60) scale(1.0803 1.0000)" font-size="27.00" font-weight="bold" stroke="#f4f4fa" stroke-width="0.8"><tspan fill="#f4f4fa">s</tspan></text>
<text transform="translate(1128.66 1334.60) scale(0.9520 1.0000)" font-size="27.00" font-weight="bold" stroke="#f4f4fa" stroke-width="0.8"><tspan fill="#f4f4fa">S</tspan></text>
<text transform="translate(1170.00 1334.60) scale(1.0571 1.0000)" font-size="27.00" font-weight="bold" stroke="#f4f4fa" stroke-width="0.8"><tspan fill="#f4f4fa">s</tspan></text>
<text transform="translate(1337.69 1334.60) scale(1.0063 1.0000)" font-size="27.00" font-weight="bold" stroke="#f4f4fa" stroke-width="0.8"><tspan fill="#f4f4fa">T</tspan></text>
<text transform="translate(1385.14 1334.60) scale(1.1042 1.0000)" font-size="27.00" font-weight="bold" stroke="#f4f4fa" stroke-width="0.8"><tspan fill="#f4f4fa">t</tspan></text>
<text transform="translate(793.99 1391.70) scale(1.1316 1.0000)" font-size="21.00"><tspan fill="#e4e4f0">Capital S is an error it</tspan></text>
<text transform="translate(794.22 1420.10) scale(1.1061 1.0000)" font-size="21.00"><tspan fill="#e4e4f0">occurs if you set SUID bit or</tspan></text>
<text transform="translate(794.13 1450.60) scale(1.1200 1.0000)" font-size="21.00"><tspan fill="#e4e4f0">SGID bit to a file without</tspan></text>
<text transform="translate(794.17 1479.40) scale(1.1573 1.0000)" font-size="21.00"><tspan fill="#e4e4f0">execute (x) bit set</tspan></text>
<text transform="translate(1137.39 1396.30) scale(1.1333 1.0000)" font-size="21.00"><tspan fill="#e4e4f0">Capital T is an error it</tspan></text>
<text transform="translate(1137.59 1424.70) scale(1.1418 1.0000)" font-size="21.00"><tspan fill="#e4e4f0">occurs if you set Stick bit to</tspan></text>
<text transform="translate(1137.57 1454.20) scale(1.1568 1.0000)" font-size="21.00"><tspan fill="#e4e4f0">a file without execute (x)</tspan></text>
<text transform="translate(1137.02 1484.20) scale(1.1647 1.0000)" font-size="21.00"><tspan fill="#e4e4f0">bit set</tspan></text>
<rect x="21.40" y="1533.70" width="428.50" height="375.40" rx="20.60" fill="none" stroke="#868aa6" stroke-width="6.80"/>
<rect x="503.40" y="1533.70" width="428.60" height="375.40" rx="20.60" fill="none" stroke="#868aa6" stroke-width="6.80"/>
<rect x="985.90" y="1533.70" width="427.90" height="375.40" rx="20.60" fill="none" stroke="#868aa6" stroke-width="6.80"/>
<text transform="translate(119.83 1585.50) scale(0.9585 1.0000)" font-size="31.50" font-weight="bold" stroke="#f4f4fa" stroke-width="1"><tspan fill="#f4f4fa">SUID</tspan></text>
<text transform="translate(198.26 1585.50) scale(1.0618 1.0000)" font-size="31.50" font-weight="bold" stroke="#f4f4fa" stroke-width="1"><tspan fill="#f4f4fa">Permission</tspan></text>
<text transform="translate(182.98 1634.25) scale(1.1686 1.0000)" font-size="20.70"><tspan fill="#e6e6f2">Group</tspan></text>
<text transform="translate(254.68 1634.25) scale(1.1468 1.0000)" font-size="20.70"><tspan fill="#e6e6f2">Owner</tspan></text>
<text transform="translate(195.05 1663.75) scale(1.1501 1.0000)" font-size="20.70"><tspan fill="#e6e6f2">Permission</tspan></text>
<line x1="67.50" y1="1712.00" x2="93.75" y2="1712.00" stroke="#f6f6fa" stroke-width="5.00"/>
<text transform="translate(97.93 1733.75) scale(1.0756 1.0000)" font-size="64.00" stroke="#01022b" stroke-width="0.7"><tspan fill="#b3ee6a">rws</tspan></text>
<text transform="translate(202.89 1733.75) scale(1.0837 1.0000)" font-size="64.00" stroke="#01022b" stroke-width="0.7"><tspan fill="#4fd1e0">rw</tspan></text>
<line x1="281.25" y1="1712.00" x2="307.50" y2="1712.00" stroke="#4fd1e0" stroke-width="5.00"/>
<text transform="translate(310.02 1733.75) scale(1.1719 1.0000)" font-size="64.00" stroke="#01022b" stroke-width="0.7"><tspan fill="#ef4743">r</tspan></text>
<line x1="338.75" y1="1712.00" x2="363.75" y2="1712.00" stroke="#ef4743" stroke-width="5.00"/>
<line x1="372.50" y1="1712.00" x2="398.75" y2="1712.00" stroke="#ef4743" stroke-width="5.00"/>
<path d="M207.80 1693.00 C207.80 1679.14 217.82 1679.14 235.35 1679.14 C250.38 1679.14 257.90 1677.00 257.90 1672.00 C257.90 1677.00 265.41 1679.14 280.44 1679.14 C297.98 1679.14 308.00 1679.14 308.00 1693.00" fill="none" stroke="#4fd1e0" stroke-width="2.8" stroke-linecap="round"/>
<path d="M101.50 1738.00 C101.50 1752.72 111.60 1752.72 129.28 1752.72 C144.43 1752.72 152.00 1754.99 152.00 1760.30 C152.00 1754.99 159.57 1752.72 174.72 1752.72 C192.40 1752.72 202.50 1752.72 202.50 1738.00" fill="none" stroke="#b3ee6a" stroke-width="2.8" stroke-linecap="round"/>
<path d="M310.00 1738.00 C310.00 1752.72 320.03 1752.72 337.58 1752.72 C352.63 1752.72 360.15 1754.99 360.15 1760.30 C360.15 1754.99 367.67 1752.72 382.72 1752.72 C400.27 1752.72 410.30 1752.72 410.30 1738.00" fill="none" stroke="#ef4743" stroke-width="2.8" stroke-linecap="round"/>
<text transform="translate(86.59 1781.40) scale(1.0727 1.0000)" font-size="20.70"><tspan fill="#e6e6f2">User</tspan></text>
<text transform="translate(138.17 1781.40) scale(1.1485 1.0000)" font-size="20.70"><tspan fill="#e6e6f2">Owner</tspan></text>
<text transform="translate(89.05 1810.40) scale(1.1496 1.0000)" font-size="20.70"><tspan fill="#e6e6f2">Permission</tspan></text>
<text transform="translate(319.37 1781.40) scale(1.1517 1.0000)" font-size="20.70"><tspan fill="#e6e6f2">Other</tspan></text>
<text transform="translate(285.58 1810.40) scale(1.1289 1.0000)" font-size="20.70"><tspan fill="#e6e6f2">Permissions</tspan></text>
<text transform="translate(133.86 1875.80) scale(1.1822 1.0000)" font-size="26.50"><tspan fill="#f4f4fa">$chmod</tspan></text>
<text transform="translate(252.23 1875.80) scale(1.1426 1.0000)" font-size="26.50"><tspan fill="#f4f4fa">u+s</tspan></text>
<text transform="translate(307.85 1875.80) scale(1.1880 1.0000)" font-size="26.50"><tspan fill="#f4f4fa">file</tspan></text>
<text transform="translate(600.93 1585.90) scale(0.9585 1.0000)" font-size="31.50" font-weight="bold" stroke="#f4f4fa" stroke-width="1"><tspan fill="#f4f4fa">SUID</tspan></text>
<text transform="translate(679.36 1585.90) scale(1.0630 1.0000)" font-size="31.50" font-weight="bold" stroke="#f4f4fa" stroke-width="1"><tspan fill="#f4f4fa">Permission</tspan></text>
<text transform="translate(674.79 1640.00) scale(1.1668 1.0000)" font-size="20.70"><tspan fill="#e6e6f2">Group</tspan></text>
<text transform="translate(747.57 1640.00) scale(1.1485 1.0000)" font-size="20.70"><tspan fill="#e6e6f2">Owner</tspan></text>
<text transform="translate(687.03 1669.60) scale(1.1577 1.0000)" font-size="20.70"><tspan fill="#e6e6f2">Permission</tspan></text>
<text transform="translate(545.48 1733.75) scale(1.2354 1.0000)" font-size="63.00" stroke="#01022b" stroke-width="0.7"><tspan fill="#f6f6fa">d</tspan></text>
<text transform="translate(586.76 1733.75) scale(1.0572 1.0000)" font-size="64.00" stroke="#01022b" stroke-width="0.7"><tspan fill="#b3ee6a">rwx</tspan></text>
<text transform="translate(689.12 1733.75) scale(1.0891 1.0000)" font-size="64.00" stroke="#01022b" stroke-width="0.7"><tspan fill="#4fd1e0">rws</tspan></text>
<text transform="translate(795.02 1733.75) scale(1.1719 1.0000)" font-size="64.00" stroke="#01022b" stroke-width="0.7"><tspan fill="#ef4743">r</tspan></text>
<line x1="825.00" y1="1711.00" x2="850.00" y2="1711.00" stroke="#ef4743" stroke-width="5.00"/>
<line x1="858.75" y1="1711.00" x2="883.75" y2="1711.00" stroke="#ef4743" stroke-width="5.00"/>
<path d="M693.30 1697.80 C693.30 1683.87 703.30 1683.87 720.80 1683.87 C735.80 1683.87 743.30 1681.72 743.30 1676.70 C743.30 1681.72 750.80 1683.87 765.80 1683.87 C783.30 1683.87 793.30 1683.87 793.30 1697.80" fill="none" stroke="#4fd1e0" stroke-width="2.8" stroke-linecap="round"/>
<path d="M592.50 1738.60 C592.50 1752.33 602.58 1752.33 620.22 1752.33 C635.34 1752.33 642.90 1754.45 642.90 1759.40 C642.90 1754.45 650.46 1752.33 665.58 1752.33 C683.22 1752.33 693.30 1752.33 693.30 1738.60" fill="none" stroke="#b3ee6a" stroke-width="2.8" stroke-linecap="round"/>
<path d="M800.00 1738.60 C800.00 1752.33 810.08 1752.33 827.72 1752.33 C842.84 1752.33 850.40 1754.45 850.40 1759.40 C850.40 1754.45 857.96 1752.33 873.08 1752.33 C890.72 1752.33 900.80 1752.33 900.80 1738.60" fill="none" stroke="#ef4743" stroke-width="2.8" stroke-linecap="round"/>
<text transform="translate(588.89 1781.00) scale(1.0727 1.0000)" font-size="20.70"><tspan fill="#e6e6f2">User</tspan></text>
<text transform="translate(642.37 1781.00) scale(1.1485 1.0000)" font-size="20.70"><tspan fill="#e6e6f2">Owner</tspan></text>
<text transform="translate(592.05 1810.80) scale(1.1506 1.0000)" font-size="20.70"><tspan fill="#e6e6f2">Permission</tspan></text>
<text transform="translate(816.35 1781.00) scale(1.1735 1.0000)" font-size="20.70"><tspan fill="#e6e6f2">Other</tspan></text>
<text transform="translate(782.06 1810.80) scale(1.1425 1.0000)" font-size="20.70"><tspan fill="#e6e6f2">Permissions</tspan></text>
<text transform="translate(534.08 1876.00) scale(1.1150 1.0000)" font-size="26.50"><tspan fill="#f4f4fa">$chmod</tspan></text>
<text transform="translate(644.08 1876.00) scale(1.0992 1.0000)" font-size="26.50"><tspan fill="#f4f4fa">g+s</tspan></text>
<text transform="translate(697.55 1876.00) scale(1.1267 1.0000)" font-size="26.50"><tspan fill="#f4f4fa">directory_name</tspan></text>
<text transform="translate(1052.06 1586.00) scale(1.0321 1.0000)" font-size="31.50" font-weight="bold" stroke="#f4f4fa" stroke-width="1"><tspan fill="#f4f4fa">Stick</tspan></text>
<text transform="translate(1135.60 1586.00) scale(1.0431 1.0000)" font-size="31.50" font-weight="bold" stroke="#f4f4fa" stroke-width="1"><tspan fill="#f4f4fa">Bit</tspan></text>
<text transform="translate(1185.97 1586.00) scale(1.0576 1.0000)" font-size="31.50" font-weight="bold" stroke="#f4f4fa" stroke-width="1"><tspan fill="#f4f4fa">Permission</tspan></text>
<text transform="translate(1164.79 1648.50) scale(1.1668 1.0000)" font-size="20.70"><tspan fill="#e6e6f2">Group</tspan></text>
<text transform="translate(1237.57 1648.50) scale(1.1485 1.0000)" font-size="20.70"><tspan fill="#e6e6f2">Owner</tspan></text>
<text transform="translate(1177.03 1678.30) scale(1.1577 1.0000)" font-size="20.70"><tspan fill="#e6e6f2">Permission</tspan></text>
<text transform="translate(1034.75 1742.80) scale(1.2283 1.0000)" font-size="63.00" stroke="#01022b" stroke-width="0.7"><tspan fill="#f6f6fa">d</tspan></text>
<text transform="translate(1076.11 1742.80) scale(1.0572 1.0000)" font-size="64.00" stroke="#01022b" stroke-width="0.7"><tspan fill="#b3ee6a">rwx</tspan></text>
<text transform="translate(1178.81 1742.80) scale(1.0572 1.0000)" font-size="64.00" stroke="#01022b" stroke-width="0.7"><tspan fill="#4fd1e0">rwx</tspan></text>
<text transform="translate(1281.80 1742.80) scale(1.1539 1.0000)" font-size="64.00" stroke="#01022b" stroke-width="0.7"><tspan fill="#ef4743">rwt</tspan></text>
<path d="M1184.00 1706.00 C1184.00 1692.34 1193.93 1692.34 1211.31 1692.34 C1226.20 1692.34 1233.65 1690.23 1233.65 1685.30 C1233.65 1690.23 1241.10 1692.34 1255.99 1692.34 C1273.37 1692.34 1283.30 1692.34 1283.30 1706.00" fill="none" stroke="#4fd1e0" stroke-width="2.8" stroke-linecap="round"/>
<path d="M1080.60 1747.00 C1080.60 1761.26 1090.60 1761.26 1108.10 1761.26 C1123.10 1761.26 1130.60 1763.46 1130.60 1768.60 C1130.60 1763.46 1138.10 1761.26 1153.10 1761.26 C1170.60 1761.26 1180.60 1761.26 1180.60 1747.00" fill="none" stroke="#b3ee6a" stroke-width="2.8" stroke-linecap="round"/>
<path d="M1286.00 1747.00 C1286.00 1761.26 1296.00 1761.26 1313.50 1761.26 C1328.50 1761.26 1336.00 1763.46 1336.00 1768.60 C1336.00 1763.46 1343.50 1761.26 1358.50 1761.26 C1376.00 1761.26 1386.00 1761.26 1386.00 1747.00" fill="none" stroke="#ef4743" stroke-width="2.8" stroke-linecap="round"/>
<text transform="translate(1064.09 1789.40) scale(1.0727 1.0000)" font-size="20.70"><tspan fill="#e6e6f2">User</tspan></text>
<text transform="translate(1116.37 1789.40) scale(1.1485 1.0000)" font-size="20.70"><tspan fill="#e6e6f2">Owner</tspan></text>
<text transform="translate(1067.45 1819.40) scale(1.1466 1.0000)" font-size="20.70"><tspan fill="#e6e6f2">Permission</tspan></text>
<text transform="translate(1297.15 1789.40) scale(1.1735 1.0000)" font-size="20.70"><tspan fill="#e6e6f2">Other</tspan></text>
<text transform="translate(1262.45 1819.40) scale(1.1462 1.0000)" font-size="20.70"><tspan fill="#e6e6f2">Permissions</tspan></text>
<text transform="translate(1014.16 1877.00) scale(1.1887 1.0000)" font-size="26.50"><tspan fill="#f4f4fa">$chmod</tspan></text>
<text transform="translate(1130.49 1877.00) scale(1.3958 1.0000)" font-size="26.50"><tspan fill="#f4f4fa">+t</tspan></text>
<text transform="translate(1167.56 1877.00) scale(1.2010 1.0000)" font-size="26.50"><tspan fill="#f4f4fa">directory_name</tspan></text>
</svg></body></html>
